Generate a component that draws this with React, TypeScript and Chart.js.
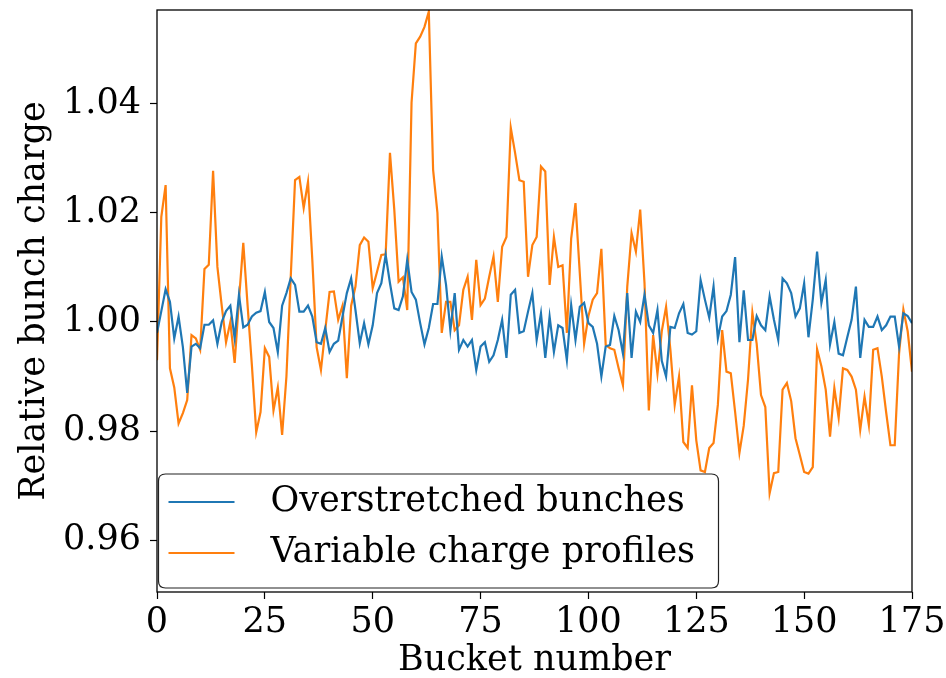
import React, { useEffect, useRef } from "react";
import { Chart, registerables } from "chart.js";

Chart.register(...registerables);

const SERIES_LABELS = ["Overstretched bunches", "Variable charge profiles"];
const SERIES_COLORS = ["#1f77b4", "#ff7f0e"];

const OVERSTRETCHED = [
  0.998, 1.002, 1.006, 1.0037, 0.997, 1.001, 0.9954, 0.987, 0.9955, 0.996,
  0.9952, 0.9995, 0.9995, 1.0003, 0.996, 1.0, 1.002, 1.003, 0.997, 1.005,
  0.999, 0.9995, 1.001, 1.0017, 1.002, 1.0055, 1.0, 0.9989, 0.9945, 1.003,
  1.0053, 1.008, 1.0068, 1.0019, 1.0019, 1.003, 1.001, 0.9963, 0.996, 0.9989,
  0.9945, 0.996, 0.9966, 1.001, 1.0053, 1.008, 1.0022, 0.9961, 0.9998, 0.9959,
  0.9994, 1.0053, 1.0071, 1.0123, 1.0071, 1.0025, 1.0022, 1.0047, 1.0114, 1.0055,
  1.0041, 0.9998, 0.9959, 0.9989, 1.0033, 1.0033, 1.012, 1.0068, 0.9985, 1.0053,
  0.9949, 0.9967, 0.9955, 0.9967, 0.9912, 0.9955, 0.9963, 0.9927, 0.9939, 0.9967,
  1.0004, 0.9934, 1.005, 1.0059, 0.998, 0.9983, 1.0019, 1.0053, 0.9967, 1.0016,
  0.9934, 1.001, 0.9945, 0.9994, 0.9989, 0.993, 1.0031, 0.9967, 1.0028, 1.0035,
  0.9998, 0.9991, 0.996, 0.99, 0.9955, 0.9958, 1.0011, 0.9985, 0.9942, 1.0053,
  0.9934, 1.0019, 1.0, 1.005, 0.9994, 0.998, 1.0022, 0.9929, 0.99, 0.9991,
  0.9989, 1.0016, 1.0033, 0.998, 0.9977, 0.9983, 1.0077, 1.0041, 1.0008, 1.0065,
  0.997, 1.001, 1.002, 1.005, 1.0119, 0.9963, 1.0058, 0.9967, 0.9967, 1.0011,
  0.9994, 0.9985, 1.0047, 1.0004, 0.9967, 1.008, 1.0071, 1.0053, 1.001, 1.0025,
  1.0071, 0.9972, 1.0041, 1.0129, 1.0035, 1.0077, 0.9959, 1.0, 0.9942, 0.9939,
  0.9972, 1.0004, 1.0065, 0.9934, 1.0004, 0.9991, 0.9991, 1.001, 0.9985, 0.9994,
  1.001, 1.001, 0.9955, 1.0016, 1.0011, 0.9998,
];

const VARIABLE = [
  0.993, 1.0193, 1.0251, 0.9915, 0.988, 0.9814, 0.9833, 0.9857, 0.9976, 0.997,
  0.9949, 1.0097, 1.0105, 1.0277, 1.0101, 1.003, 0.9963, 1.0, 0.9925, 1.004,
  1.0145, 1.003, 0.992, 0.9798, 0.9835, 0.9952, 0.9936, 0.9838, 0.988, 0.9793,
  0.99, 1.0083, 1.026, 1.0266, 1.0209, 1.0257, 1.0114, 0.9954, 0.9912, 0.9985,
  1.0055, 1.0056, 1.0004, 1.003, 0.9897, 1.003, 1.0065, 1.0141, 1.0155, 1.0147,
  1.0062, 1.0092, 1.0123, 1.0124, 1.031, 1.0206, 1.0074, 1.0082, 1.0022, 1.0402,
  1.0511, 1.0523, 1.0541, 1.0569, 1.0279, 1.02, 0.998, 1.0037, 1.0037, 0.9985,
  0.9994, 1.0059, 1.0083, 1.0004, 1.0114, 1.0031, 1.0043, 1.0083, 1.012, 1.0037,
  1.0138, 1.0156, 1.0356, 1.031, 1.026, 1.0257, 1.0083, 1.0141, 1.0156, 1.0285,
  1.0276, 1.0068, 1.0156, 1.0101, 1.0104, 0.998, 1.0153, 1.0218, 1.0089, 0.996,
  1.0011, 1.0041, 1.0053, 1.0134, 0.9958, 0.9952, 0.9949, 0.9915, 0.9884, 1.0065,
  1.0163, 1.0129, 1.0206, 1.0071, 0.9838, 0.9976, 0.9905, 0.9983, 1.0028, 0.9949,
  0.9848, 0.99, 0.978, 0.9769, 0.9884, 0.9783, 0.9728, 0.9725, 0.9769, 0.9778,
  0.9848, 0.9985, 0.9909, 0.9906, 0.9835, 0.976, 0.981, 0.9895, 1.0017, 0.996,
  0.9866, 0.9844, 0.9686, 0.9723, 0.9725, 0.9876, 0.9888, 0.9855, 0.9787, 0.9756,
  0.9725, 0.9722, 0.9734, 0.995, 0.9919, 0.9876, 0.979, 0.9879, 0.9824, 0.9915,
  0.9912, 0.99, 0.9876, 0.9802, 0.9863, 0.9811, 0.9949, 0.9952, 0.99, 0.9835,
  0.9774, 0.9774, 0.9942, 1.0023, 0.9983, 0.9909,
];

const X_TICKS = [0, 25, 50, 75, 100, 125, 150, 175];
const Y_TICKS = [0.96, 0.98, 1.0, 1.02, 1.04];
const X_RANGE = [0, 175];
const Y_RANGE = [0.9505, 1.0572];
const X_TITLE = "Bucket number";
const Y_TITLE = "Relative bunch charge";

const FONT_FAMILY = "'DejaVu Serif', serif";
const FONT_SIZE = 35;

const framePlugin = {
  id: "frameAndLegend",
  afterDatasetsDraw(chart: any) {
    const { ctx, chartArea } = chart;
    const bx = chartArea.left + 1.5;
    const by = chartArea.top + 464;
    const bw = 560;
    const bh = 114;
    const r = 7;
    ctx.save();
    ctx.beginPath();
    ctx.moveTo(bx + r, by);
    ctx.lineTo(bx + bw - r, by);
    ctx.quadraticCurveTo(bx + bw, by, bx + bw, by + r);
    ctx.lineTo(bx + bw, by + bh - r);
    ctx.quadraticCurveTo(bx + bw, by + bh, bx + bw - r, by + bh);
    ctx.lineTo(bx + r, by + bh);
    ctx.quadraticCurveTo(bx, by + bh, bx, by + bh - r);
    ctx.lineTo(bx, by + r);
    ctx.quadraticCurveTo(bx, by, bx + r, by);
    ctx.closePath();
    ctx.fillStyle = "rgba(255,255,255,0.85)";
    ctx.fill();
    ctx.strokeStyle = "#222";
    ctx.lineWidth = 1.2;
    ctx.stroke();
    chart.data.datasets.forEach((ds: any, i: number) => {
      const cy = by + 28 + i * 51;
      ctx.beginPath();
      ctx.moveTo(bx + 10, cy);
      ctx.lineTo(bx + 76, cy);
      ctx.strokeStyle = ds.borderColor;
      ctx.lineWidth = 2.2;
      ctx.stroke();
      ctx.fillStyle = "#000";
      ctx.font = `${FONT_SIZE}px ${FONT_FAMILY}`;
      ctx.textBaseline = "middle";
      ctx.textAlign = "left";
      ctx.fillText(ds.label, bx + 112, cy);
    });
    ctx.restore();
  },
  afterDraw(chart: any) {
    const { ctx, chartArea } = chart;
    ctx.save();
    ctx.strokeStyle = "#000";
    ctx.lineWidth = 1.3;
    ctx.strokeRect(
      chartArea.left,
      chartArea.top,
      chartArea.right - chartArea.left,
      chartArea.bottom - chartArea.top
    );
    ctx.restore();
  },
};

export default function App() {
  const ref = useRef<HTMLCanvasElement | null>(null);
  useEffect(() => {
    if (!ref.current) return;
    const font = { family: FONT_FAMILY, size: FONT_SIZE };
    const chart = new Chart(ref.current, {
      type: "line",
      data: {
        datasets: [OVERSTRETCHED, VARIABLE].map((arr, k) => ({
          label: SERIES_LABELS[k],
          data: arr.map((v, i) => ({ x: i, y: v })),
          borderColor: SERIES_COLORS[k],
          backgroundColor: SERIES_COLORS[k],
          borderWidth: 2.2,
          pointRadius: 0,
          tension: 0,
          fill: false,
        })),
      },
      options: {
        animation: false,
        responsive: false,
        devicePixelRatio: 1,
        layout: { padding: { left: 0, top: 10, right: 34, bottom: 0 } },
        plugins: { legend: { display: false }, tooltip: { enabled: false } },
        scales: {
          x: {
            type: "linear",
            min: X_RANGE[0],
            max: X_RANGE[1],
            afterBuildTicks: (s: any) => {
              s.ticks = X_TICKS.map((v) => ({ value: v }));
            },
            afterFit: (s: any) => {
              s.height = 86;
              s.paddingLeft = 0;
              s.paddingRight = 0;
            },
            ticks: {
              color: "#000",
              font,
              padding: 3,
              maxRotation: 0,
              autoSkip: false,
              callback: (v: any) => String(v),
            },
            grid: {
              drawOnChartArea: false,
              drawTicks: true,
              tickLength: 7,
              tickColor: "#000",
              tickWidth: 1.2,
            },
            border: { display: false },
            title: {
              display: true,
              text: X_TITLE,
              color: "#000",
              font: { ...font, lineHeight: 1.0 },
              padding: { top: 0, bottom: 0 },
            },
          },
          y: {
            type: "linear",
            min: Y_RANGE[0],
            max: Y_RANGE[1],
            afterBuildTicks: (s: any) => {
              s.ticks = Y_TICKS.map((v) => ({ value: v }));
            },
            afterFit: (s: any) => {
              s.width = 157;
              s.paddingTop = 0;
              s.paddingBottom = 0;
            },
            ticks: {
              color: "#000",
              font,
              padding: 9,
              autoSkip: false,
              callback: (v: any) => Number(v).toFixed(2),
            },
            grid: {
              drawOnChartArea: false,
              drawTicks: true,
              tickLength: 7,
              tickColor: "#000",
              tickWidth: 1.2,
            },
            border: { display: false },
            title: {
              display: true,
              text: Y_TITLE,
              color: "#000",
              font: { ...font, lineHeight: 1.2 },
              padding: { top: 14, bottom: 0 },
            },
          },
        },
      },
      plugins: [framePlugin],
    });
    return () => chart.destroy();
  }, []);
  return (
    <div style={{ position: "fixed", left: 0, top: 0, width: 946, height: 678, background: "#fff" }}>
      <canvas ref={ref} width={946} height={678} style={{ display: "block" }} />
    </div>
  );
}
